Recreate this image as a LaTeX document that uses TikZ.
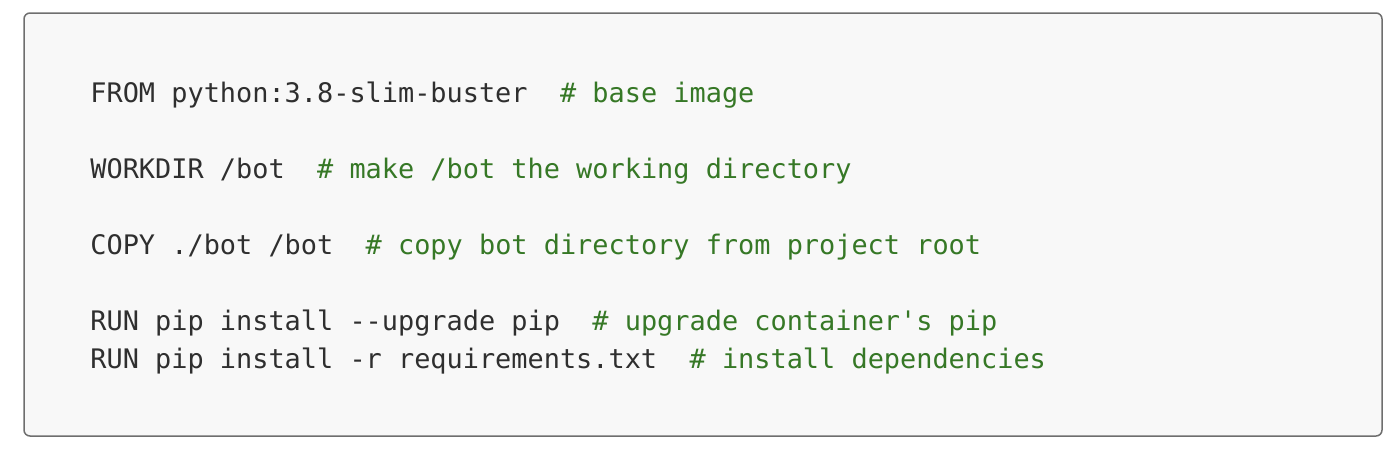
\documentclass[tikz,border=0pt]{standalone}
\usepackage{fontspec}
\setmonofont{DejaVu Sans Mono}
\usepackage{tikz}
\usetikzlibrary{positioning}

\definecolor{codebg}{HTML}{F8F8F8}
\definecolor{codeframe}{HTML}{6E6E6E}
\definecolor{codetext}{HTML}{2F2F2F}
\definecolor{codecomment}{HTML}{367826}
\newcommand{\cmt}[1]{\textcolor{codecomment}{#1}}

\begin{document}
\begin{tikzpicture}[x=0.5pt, y=-0.5pt,
    codeline/.style={anchor=base west, inner sep=0pt, text=codetext,
      font=\ttfamily\fontsize{13.45pt}{19pt}\selectfont}]
  \useasboundingbox (0,0) rectangle (1400,450);
  % Frame
  \draw[codeframe, fill=codebg, line width=0.75pt, rounded corners=3pt]
    (24,13) rectangle (1382,436);

  % Lines
  \node[codeline] (from) at (90,102)
    {FROM python:3.8-slim-buster\ \ \cmt{\# base image}};
  \node[codeline] (workdir) at (90,178)
    {WORKDIR /bot\ \ \cmt{\# make /bot the working directory}};
  \node[codeline] (copy) at (90,254)
    {COPY ./bot /bot\ \ \cmt{\# copy bot directory from project root}};
  \node[codeline] (runpip) at (90,330)
    {RUN pip install -{}-upgrade pip\ \ \cmt{\# upgrade container's pip}};
  \node[codeline] (runreq) at (90,368)
    {RUN pip install -r requirements.txt\ \ \cmt{\# install dependencies}};
\end{tikzpicture}
\end{document}
